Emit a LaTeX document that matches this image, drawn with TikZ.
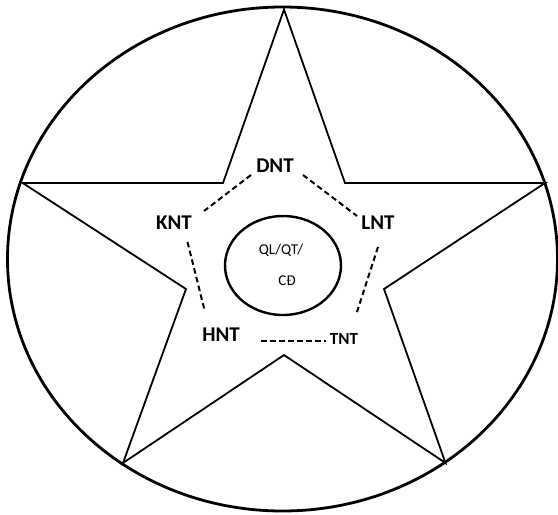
\documentclass[tikz,border=0pt]{standalone}
\usepackage{fontspec}
\setmainfont{Carlito}
\begin{document}
\begin{tikzpicture}[x=1pt,y=-1pt,
  starline/.style={line width=1.8pt, line join=miter},
  ring/.style={line width=2.8pt},
  dashline/.style={line width=2pt, dash pattern=on 5.5pt off 3.5pt},
  lbl/.style={font=\bfseries\fontsize{21}{24}\selectfont, inner sep=0pt},
  lblsmall/.style={font=\bfseries\fontsize{17}{20}\selectfont, inner sep=0pt},
  core/.style={font=\fontsize{15}{18}\selectfont, inner sep=0pt}]
\useasboundingbox (0,0) rectangle (558,515);
% outer ellipse
\draw[ring] (282.5,259) ellipse [x radius=275, y radius=252];
% star
\draw[starline] (284,9.5) -- (345,183) -- (545,183) -- (384,289) -- (445.5,463)
  -- (284,355) -- (123,463) -- (186,289) -- (22.7,183) -- (223,183) -- cycle;
% inner ellipse with small gap at lower left
\draw[ring, line width=2.4pt] (283,265.5) ++(104:58 and 49.5) arc [start angle=104, end angle=471, x radius=58, y radius=49.5];
% labels
\node[lbl] (DNT) at (275,166) {DNT};
\node[lbl] (KNT) at (174,223) {KNT};
\node[lbl] (LNT) at (378,223) {LNT};
\node[lbl] (HNT) at (221,335) {HNT};
\node[lblsmall] (TNT) at (344,339) {TNT};
\node[core] (QL) at (281,250) {QL/QT/};
\node[core] (CD) at (287,281) {CĐ};
% dashed connector ends
\coordinate (d1) at (251,175);
\coordinate (k1) at (204,211);
\coordinate (d2) at (303,175);
\coordinate (l1) at (357,216);
\coordinate (k2) at (187.5,242);
\coordinate (h1) at (204.5,310);
\coordinate (l2) at (378,247);
\coordinate (t1) at (356,315);
\coordinate (h2) at (261,341);
\coordinate (t2) at (326,341);
\draw[dashline] (d1) -- (k1);
\draw[dashline] (d2) -- (l1);
\draw[dashline] (k2) -- (h1);
\draw[dashline] (l2) -- (t1);
\draw[dashline] (h2) -- (t2);
\end{tikzpicture}
\end{document}
